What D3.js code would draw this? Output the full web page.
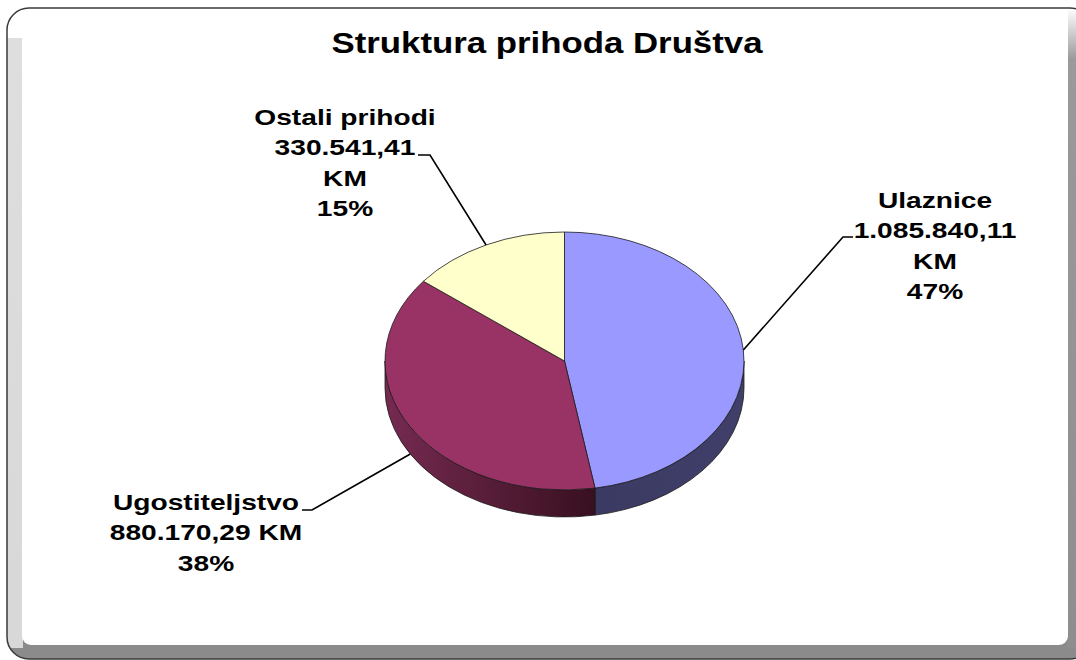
<!DOCTYPE html>
<html>
<head>
<meta charset="utf-8">
<script src="https://cdn.jsdelivr.net/npm/d3@7"></script>
<style>
  body { margin: 0; background: #fff; }
  svg { display: block; }
  text { font-family: "Liberation Sans", Arial, sans-serif; font-weight: bold; fill: #000; }
</style>
</head>
<body>
<svg id="SVG_CONTAINER"></svg>
<script>
// chart data
const categories = ["Ulaznice", "Ugostiteljstvo", "Ostali prihodi"];
const values = [1085840.11, 880170.29, 330541.41];
const pctLabels = ["47%", "38%", "15%"];
const topColors = ["#9999ff", "#993366", "#ffffcc"];

const width = 1076, height = 660;

// pie geometry (3D look: flattened ellipse + wall)
const PIE = { cx: 564.5, cy: 361, rx: 179.5, ry: 129, depth: 27 };

// label layout: centre x, first baseline y, elbow of leader line, end of short tick
const labelLayout = [
    { x: 935, y: 208, elbow: [843, 237], tick: [853, 237], joinKM: false },
    { x: 206, y: 510, elbow: [312, 510], tick: [302, 510], joinKM: true },
    { x: 345, y: 125, elbow: [430, 155], tick: [418, 155], joinKM: false }
];

const bsLocale = d3.formatLocale({ decimal: ",", thousands: ".", grouping: [3], currency: ["", " KM"] });
const fmt = bsLocale.format(",.2f");

const svg = d3.select("#SVG_CONTAINER").attr("width", width).attr("height", height);
const defs = svg.append("defs");

// ---- frame ----
const leftGrad = defs.append("linearGradient").attr("id", "leftStrip")
    .attr("x1", 0).attr("y1", 0).attr("x2", 0).attr("y2", 1);
leftGrad.append("stop").attr("offset", "0%").attr("stop-color", "#ffffff");
leftGrad.append("stop").attr("offset", "4%").attr("stop-color", "#dedede");
leftGrad.append("stop").attr("offset", "100%").attr("stop-color", "#d8d8d8");

const rightGrad = defs.append("linearGradient").attr("id", "rightStrip")
    .attr("x1", 0).attr("y1", 0).attr("x2", 0).attr("y2", 1);
rightGrad.append("stop").attr("offset", "0%").attr("stop-color", "#ffffff");
rightGrad.append("stop").attr("offset", "8%").attr("stop-color", "#9a9a9a");
rightGrad.append("stop").attr("offset", "100%").attr("stop-color", "#8e8e8e");

defs.append("clipPath").attr("id", "frameClip")
    .append("rect").attr("x", 7).attr("y", 8).attr("width", 1085).attr("height", 651).attr("rx", 22);

const frame = svg.append("g").attr("clip-path", "url(#frameClip)");
frame.append("rect").attr("x", 7).attr("y", 8).attr("width", 1085).attr("height", 651)
    .attr("fill", "#8b8b8b");
frame.append("rect").attr("x", 7).attr("y", 8).attr("width", 16).attr("height", 640)
    .attr("fill", "url(#leftStrip)");
frame.append("rect").attr("x", 1067).attr("y", 8).attr("width", 12).attr("height", 640)
    .attr("fill", "url(#rightStrip)");
frame.append("rect").attr("x", 7).attr("y", 8).attr("width", 40).attr("height", 30).attr("fill", "#fff");
frame.append("rect").attr("x", 22).attr("y", 8).attr("width", 1046).attr("height", 637)
    .attr("rx", 9).attr("fill", "#fff");
frame.append("rect").attr("x", 22).attr("y", 8).attr("width", 1046).attr("height", 30).attr("fill", "#fff");
svg.append("rect").attr("x", 7).attr("y", 8).attr("width", 1085).attr("height", 651).attr("rx", 22)
    .attr("fill", "none").attr("stroke", "#3a3a3a").attr("stroke-width", 1.5);

// ---- title ----
svg.append("text")
    .attr("transform", "translate(547,53) scale(1.16,1)")
    .attr("text-anchor", "middle")
    .attr("font-size", 30)
    .text("Struktura prihoda Društva");

// ---- pie ----
const pie = d3.pie().sort(null).value(d => d)(values);

function pt(a, dy) {
    return [PIE.cx + PIE.rx * Math.sin(a), PIE.cy - PIE.ry * Math.cos(a) + (dy || 0)];
}

// side shading gradients
const sideGrad = defs.append("linearGradient").attr("id", "side1")
    .attr("gradientUnits", "userSpaceOnUse")
    .attr("x1", PIE.cx - PIE.rx).attr("y1", 0).attr("x2", PIE.cx + 30).attr("y2", 0);
sideGrad.append("stop").attr("offset", "0%").attr("stop-color", "#762a51");
sideGrad.append("stop").attr("offset", "100%").attr("stop-color", "#381020");

const sideGrad0 = defs.append("linearGradient").attr("id", "side0")
    .attr("gradientUnits", "userSpaceOnUse")
    .attr("x1", PIE.cx + 30).attr("y1", 0).attr("x2", PIE.cx + PIE.rx).attr("y2", 0);
sideGrad0.append("stop").attr("offset", "0%").attr("stop-color", "#3a3a62");
sideGrad0.append("stop").attr("offset", "100%").attr("stop-color", "#3f3f6a");

const sideFill = ["url(#side0)", "url(#side1)", "#8a8a6a"];

const sides = svg.append("g").attr("class", "sides");
pie.forEach((p, i) => {
    const s = Math.max(p.startAngle, Math.PI / 2);
    const e = Math.min(p.endAngle, 3 * Math.PI / 2);
    if (s >= e) return;
    const a = pt(s), b = pt(e), c = pt(e, PIE.depth), d = pt(s, PIE.depth);
    const path = "M" + a + "A" + PIE.rx + "," + PIE.ry + " 0 0 1 " + b +
        "L" + c + "A" + PIE.rx + "," + PIE.ry + " 0 0 0 " + d + "Z";
    sides.append("path")
        .attr("d", path)
        .attr("fill", sideFill[i])
        .attr("stroke", "#1a1a1a")
        .attr("stroke-width", 0.8)
        .attr("stroke-linejoin", "round");
});

const arc = d3.arc().innerRadius(0).outerRadius(PIE.rx);
svg.append("g")
    .attr("transform", "translate(" + PIE.cx + "," + PIE.cy + ") scale(1," + (PIE.ry / PIE.rx) + ")")
    .selectAll("path")
    .data(pie)
    .enter()
    .append("path")
    .attr("d", arc)
    .attr("fill", (d, i) => topColors[i])
    .attr("stroke", "#1a1a1a")
    .attr("stroke-width", 0.8)
    .attr("vector-effect", "non-scaling-stroke");

// ---- leader lines & labels ----
const labels = svg.append("g").attr("class", "labels");
pie.forEach((p, i) => {
    const L = labelLayout[i];
    const mid = (p.startAngle + p.endAngle) / 2;
    const anchor = pt(mid, Math.cos(mid) < 0 ? PIE.depth : 0);
    labels.append("polyline")
        .attr("points", [anchor, L.elbow, L.tick].join(" "))
        .attr("fill", "none")
        .attr("stroke", "#000")
        .attr("stroke-width", 1.6);

    const valText = fmt(values[i]);
    const lines = L.joinKM
        ? [categories[i], valText + " KM", pctLabels[i]]
        : [categories[i], valText, "KM", pctLabels[i]];

    const t = labels.append("text")
        .attr("transform", "translate(" + L.x + "," + L.y + ") scale(1.28,1)")
        .attr("text-anchor", "middle")
        .attr("font-size", 22);
    t.selectAll("tspan")
        .data(lines)
        .enter()
        .append("tspan")
        .attr("x", 0)
        .attr("y", (d, j) => j * 30.5)
        .text(d => d);
});
</script>
</body>
</html>
